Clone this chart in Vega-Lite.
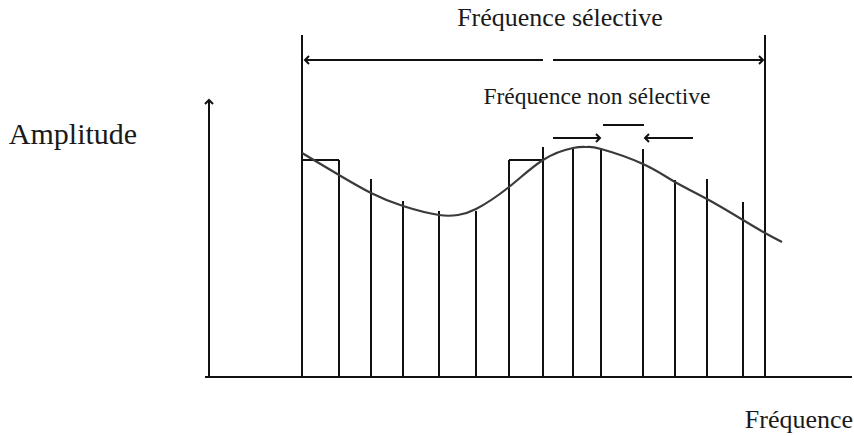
{
  "$schema": "https://vega.github.io/schema/vega-lite/v6.json",
  "width": 854,
  "height": 436,
  "autosize": {"type": "fit", "contains": "padding"},
  "padding": 0,
  "background": "white",
  "config": {"view": {"stroke": null}},
  "datasets": {
    "vbars": [
      {"f": 209, "a0": 59, "a1": 336, "kind": "axis"},
      {"f": 302, "a0": 59, "a1": 401, "kind": "bound"},
      {"f": 765, "a0": 59, "a1": 401, "kind": "bound"},
      {"f": 339, "a0": 59, "a1": 276, "kind": "bar"},
      {"f": 371, "a0": 59, "a1": 257, "kind": "bar"},
      {"f": 403, "a0": 59, "a1": 235, "kind": "bar"},
      {"f": 439, "a0": 59, "a1": 225, "kind": "bar"},
      {"f": 476, "a0": 59, "a1": 225, "kind": "bar"},
      {"f": 509, "a0": 59, "a1": 276, "kind": "bar"},
      {"f": 543, "a0": 59, "a1": 289, "kind": "bar"},
      {"f": 573, "a0": 59, "a1": 288, "kind": "bar"},
      {"f": 601, "a0": 59, "a1": 288, "kind": "bar"},
      {"f": 643, "a0": 59, "a1": 287, "kind": "bar"},
      {"f": 675, "a0": 59, "a1": 256, "kind": "bar"},
      {"f": 707, "a0": 59, "a1": 257, "kind": "bar"},
      {"f": 743, "a0": 59, "a1": 234, "kind": "bar"}
    ],
    "hsegs": [
      {"f0": 205, "f1": 852, "a": 59},
      {"f0": 302, "f1": 339, "a": 276},
      {"f0": 509, "f1": 543, "a": 276},
      {"f0": 305, "f1": 543, "a": 376},
      {"f0": 553, "f1": 763, "a": 376},
      {"f0": 553, "f1": 600, "a": 298},
      {"f0": 645, "f1": 693, "a": 298},
      {"f0": 603, "f1": 644, "a": 311}
    ],
    "heads": [
      {"f": 305, "a": 376, "dir": "left"},
      {"f": 763, "a": 376, "dir": "right"},
      {"f": 600, "a": 298, "dir": "right"},
      {"f": 645, "a": 298, "dir": "left"},
      {"f": 209, "a": 336, "dir": "up"}
    ],
    "curve": [
      {"f": 302, "a": 283},
      {"f": 339, "a": 261},
      {"f": 371, "a": 243},
      {"f": 403, "a": 230},
      {"f": 439, "a": 221},
      {"f": 458, "a": 221},
      {"f": 476, "a": 227},
      {"f": 509, "a": 249},
      {"f": 543, "a": 276},
      {"f": 573, "a": 288},
      {"f": 587, "a": 289},
      {"f": 601, "a": 287},
      {"f": 643, "a": 272},
      {"f": 675, "a": 254},
      {"f": 707, "a": 237},
      {"f": 743, "a": 216},
      {"f": 765, "a": 203},
      {"f": 782, "a": 194}
    ],
    "labels": [
      {"text": "Fréquence sélective", "f": 560, "a": 418, "role": "top"},
      {"text": "Fréquence non sélective", "f": 597, "a": 339, "role": "mid"},
      {"text": "Amplitude", "f": 73, "a": 301, "role": "yaxis"},
      {"text": "Fréquence", "f": 799, "a": 16, "role": "xaxis"}
    ]
  },
  "encoding": {},
  "layer": [
    {
      "data": {"name": "vbars"},
      "mark": {"type": "rule", "color": "#111", "strokeWidth": 2},
      "encoding": {
        "x": {"field": "f", "type": "quantitative", "scale": {"domain": [0, 854], "nice": false, "zero": false}, "axis": null},
        "y": {"field": "a0", "type": "quantitative", "scale": {"domain": [0, 436], "nice": false, "zero": false}, "axis": null},
        "y2": {"field": "a1"}
      }
    },
    {
      "data": {"name": "hsegs"},
      "mark": {"type": "rule", "color": "#111", "strokeWidth": 2},
      "encoding": {
        "x": {"field": "f0", "type": "quantitative"},
        "x2": {"field": "f1"},
        "y": {"field": "a", "type": "quantitative"}
      }
    },
    {
      "data": {"name": "curve"},
      "mark": {"type": "line", "color": "#3a3a3a", "strokeWidth": 2.2, "interpolate": "natural"},
      "encoding": {
        "x": {"field": "f", "type": "quantitative"},
        "y": {"field": "a", "type": "quantitative"}
      }
    },
    {
      "data": {"name": "heads"},
      "transform": [{"filter": "datum.dir == 'right'"}],
      "mark": {"type": "point", "shape": "M -1 -1 L 0 0 L -1 1", "filled": false, "color": "#111", "strokeWidth": 2, "size": 64, "opacity": 1},
      "encoding": {
        "x": {"field": "f", "type": "quantitative"},
        "y": {"field": "a", "type": "quantitative"}
      }
    },
    {
      "data": {"name": "heads"},
      "transform": [{"filter": "datum.dir == 'left'"}],
      "mark": {"type": "point", "shape": "M 1 -1 L 0 0 L 1 1", "filled": false, "color": "#111", "strokeWidth": 2, "size": 64, "opacity": 1},
      "encoding": {
        "x": {"field": "f", "type": "quantitative"},
        "y": {"field": "a", "type": "quantitative"}
      }
    },
    {
      "data": {"name": "heads"},
      "transform": [{"filter": "datum.dir == 'up'"}],
      "mark": {"type": "point", "shape": "M -1 1 L 0 0 L 1 1", "filled": false, "color": "#111", "strokeWidth": 2, "size": 64, "opacity": 1},
      "encoding": {
        "x": {"field": "f", "type": "quantitative"},
        "y": {"field": "a", "type": "quantitative"}
      }
    },
    {
      "data": {"name": "labels"},
      "transform": [{"filter": "datum.role == 'top' || datum.role == 'xaxis'"}],
      "mark": {"type": "text", "font": "Liberation Serif", "fontSize": 26, "color": "#1a1a1a", "align": "center", "baseline": "middle"},
      "encoding": {
        "x": {"field": "f", "type": "quantitative"},
        "y": {"field": "a", "type": "quantitative"},
        "text": {"field": "text"}
      }
    },
    {
      "data": {"name": "labels"},
      "transform": [{"filter": "datum.role == 'mid'"}],
      "mark": {"type": "text", "font": "Liberation Serif", "fontSize": 23.5, "color": "#1a1a1a", "align": "center", "baseline": "middle"},
      "encoding": {
        "x": {"field": "f", "type": "quantitative"},
        "y": {"field": "a", "type": "quantitative"},
        "text": {"field": "text"}
      }
    },
    {
      "data": {"name": "labels"},
      "transform": [{"filter": "datum.role == 'yaxis'"}],
      "mark": {"type": "text", "font": "Liberation Serif", "fontSize": 30, "color": "#1a1a1a", "align": "center", "baseline": "middle"},
      "encoding": {
        "x": {"field": "f", "type": "quantitative"},
        "y": {"field": "a", "type": "quantitative"},
        "text": {"field": "text"}
      }
    }
  ]
}
